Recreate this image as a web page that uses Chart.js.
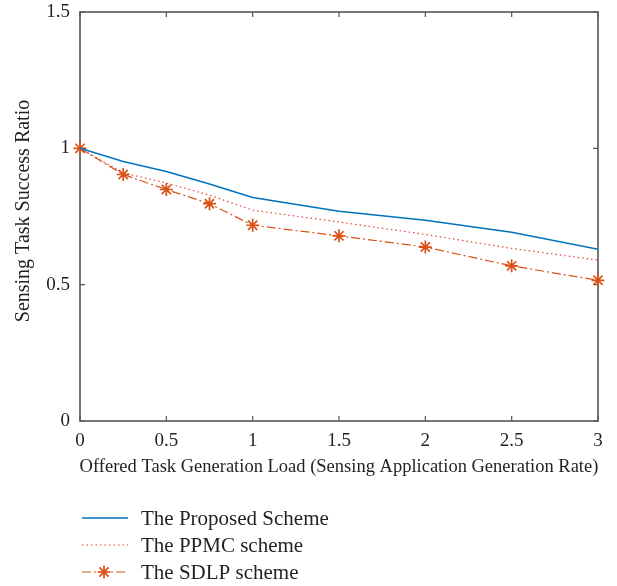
<!DOCTYPE html>
<html>
<head>
<meta charset="utf-8">
<script src="https://cdn.jsdelivr.net/npm/chart.js@4"></script>
<style>
  html, body { margin: 0; padding: 0; background: #ffffff; }
  #grafico { display: block; }
</style>
</head>
<body>
<canvas id="grafico" width="617" height="586"></canvas>
<script>
// dados
const cargas = [0, 0.25, 0.5, 0.75, 1, 1.5, 2, 2.5, 3];
const proposto = [1, 0.952, 0.915, 0.869, 0.82, 0.769, 0.736, 0.692, 0.63];
const ppmc = [1, 0.91, 0.873, 0.828, 0.773, 0.73, 0.684, 0.633, 0.59];
const sdlp = [1, 0.904, 0.849, 0.797, 0.718, 0.679, 0.638, 0.569, 0.516];
const nomes = ["The Proposed Scheme", "The PPMC scheme", "The SDLP scheme"];
const ticksX = [0, 0.5, 1, 1.5, 2, 2.5, 3];
const ticksY = [0, 0.5, 1, 1.5];

const fonte = "'Liberation Serif', 'DejaVu Serif', serif";
const corTexto = '#231f20';
const corEixo = '#555555';

function pontos(valores) {
    return cargas.map((x, i) => ({ x: x, y: valores[i] }));
}

// caixa, marcas internas, títulos e legenda
const extras = {
    id: 'extras',
    beforeDatasetsDraw(chart) {
        const ctx = chart.ctx;
        const a = chart.chartArea;
        const sx = chart.scales.x;
        const sy = chart.scales.y;
        ctx.save();
        ctx.strokeStyle = corEixo;
        ctx.lineWidth = 1.6;
        ctx.strokeRect(a.left, a.top, a.right - a.left, a.bottom - a.top);
        ctx.lineWidth = 1.2;
        ticksX.forEach(v => {
            const px = sx.getPixelForValue(v);
            ctx.beginPath();
            ctx.moveTo(px, a.bottom); ctx.lineTo(px, a.bottom - 5);
            ctx.moveTo(px, a.top); ctx.lineTo(px, a.top + 5);
            ctx.stroke();
        });
        ticksY.forEach(v => {
            const py = sy.getPixelForValue(v);
            ctx.beginPath();
            ctx.moveTo(a.left, py); ctx.lineTo(a.left + 5, py);
            ctx.moveTo(a.right, py); ctx.lineTo(a.right - 5, py);
            ctx.stroke();
        });
        ctx.restore();
    },
    afterDraw(chart) {
        const ctx = chart.ctx;
        const a = chart.chartArea;
        ctx.save();
        ctx.fillStyle = corTexto;
        ctx.font = '18.5px ' + fonte;
        ctx.textAlign = 'center';
        ctx.textBaseline = 'middle';
        ctx.fillText('Offered Task Generation Load (Sensing Application Generation Rate)', (a.left + a.right) / 2, 467);

        ctx.save();
        ctx.translate(24, 211);
        ctx.rotate(-Math.PI / 2);
        ctx.font = '20px ' + fonte;
        ctx.fillText('Sensing Task Success Ratio', 0, 0);
        ctx.restore();

        // legenda
        const linhasY = [518, 545, 572];
        chart.data.datasets.forEach((ds, i) => {
            const y = linhasY[i];
            ctx.save();
            ctx.strokeStyle = ds.borderColor;
            ctx.fillStyle = ds.borderColor;
            ctx.lineWidth = ds.borderWidth;
            ctx.setLineDash(ds.borderDash || []);
            ctx.beginPath();
            ctx.moveTo(82, y); ctx.lineTo(128, y);
            ctx.stroke();
            ctx.setLineDash([]);
            if (ds.pointRadius > 0) {
                ctx.lineWidth = ds.pointBorderWidth;
                Chart.helpers.drawPoint(ctx, {
                    pointStyle: ds.pointStyle,
                    radius: ds.pointRadius,
                    borderWidth: ds.pointBorderWidth,
                    rotation: 0
                }, 104, y);
            }
            ctx.restore();
            ctx.fillStyle = corTexto;
            ctx.font = '21px ' + fonte;
            ctx.textAlign = 'left';
            ctx.textBaseline = 'middle';
            ctx.fillText(nomes[i], 141, y + 1);
        });
        ctx.restore();
    }
};

new Chart(document.getElementById('grafico'), {
    type: 'line',
    data: {
        datasets: [{
            label: nomes[0],
            data: pontos(proposto),
            borderColor: '#0072bd',
            borderWidth: 1.5,
            pointRadius: 0,
            tension: 0
        }, {
            label: nomes[1],
            data: pontos(ppmc),
            borderColor: '#e0453a',
            borderWidth: 1.2,
            borderDash: [1.5, 3],
            pointRadius: 0,
            tension: 0
        }, {
            label: nomes[2],
            data: pontos(sdlp),
            borderColor: '#d95319',
            borderWidth: 1.2,
            borderDash: [9, 3, 2, 3],
            pointStyle: 'star',
            pointRadius: 6.5,
            pointBorderWidth: 1.7,
            pointBorderColor: '#d95319',
            pointBackgroundColor: '#d95319',
            clip: false,
            tension: 0
        }]
    },
    options: {
        responsive: false,
        animation: false,
        layout: {
            padding: { top: 12, right: 19, left: 0, bottom: 0 }
        },
        plugins: {
            legend: { display: false },
            tooltip: { enabled: false }
        },
        scales: {
            x: {
                type: 'linear',
                min: 0,
                max: 3,
                afterFit: s => { s.height = 165; s.paddingLeft = 0; s.paddingRight = 0; },
                afterBuildTicks: s => { s.ticks = ticksX.map(v => ({ value: v })); },
                grid: { display: false, drawTicks: false },
                border: { display: false },
                ticks: {
                    padding: 9,
                    color: corTexto,
                    font: { family: fonte, size: 19 },
                    callback: v => String(v)
                }
            },
            y: {
                min: 0,
                max: 1.5,
                afterFit: s => { s.width = 80; s.paddingTop = 0; s.paddingBottom = 0; },
                afterBuildTicks: s => { s.ticks = ticksY.map(v => ({ value: v })); },
                grid: { display: false, drawTicks: false },
                border: { display: false },
                ticks: {
                    padding: 10,
                    color: corTexto,
                    font: { family: fonte, size: 19 },
                    callback: v => String(v)
                }
            }
        }
    },
    plugins: [extras]
});
</script>
</body>
</html>
